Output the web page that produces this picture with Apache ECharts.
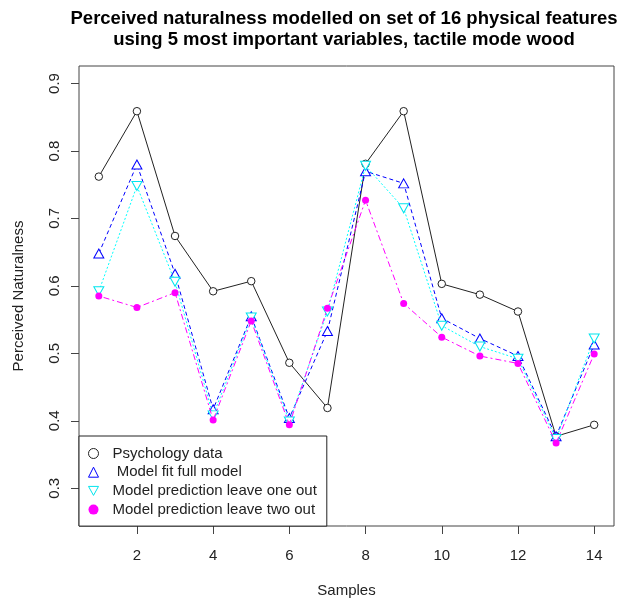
<!DOCTYPE html>
<html>
<head>
<meta charset="utf-8">
<script src="https://cdn.jsdelivr.net/npm/echarts@6/dist/echarts.min.js"></script>
<style>html,body{margin:0;padding:0;background:#fff}#c{width:623px;height:599px}</style>
</head>
<body>
<div id="c"></div>
<script>
const samples = [1,2,3,4,5,6,7,8,9,10,11,12,13,14];
const psychology = [0.762,0.859,0.674,0.592,0.607,0.486,0.419,0.781,0.859,0.603,0.587,0.562,0.377,0.394];
const fullModel = [0.648,0.780,0.618,0.417,0.555,0.404,0.533,0.770,0.752,0.552,0.522,0.496,0.377,0.513];
const leaveOneOut = [0.592,0.748,0.606,0.408,0.553,0.399,0.562,0.778,0.715,0.541,0.510,0.492,0.373,0.522];
const leaveTwoOut = [0.585,0.568,0.590,0.401,0.548,0.394,0.567,0.727,0.574,0.524,0.496,0.485,0.367,0.499];
const xTicks = [2,4,6,8,10,12,14];
const yTicks = [0.3,0.4,0.5,0.6,0.7,0.8,0.9];
const names = ['Psychology data',' Model fit full model','Model prediction leave one out','Model prediction leave two out'];
const titleText = 'Perceived naturalness modelled on set of 16 physical features\nusing 5 most important variables, tactile mode wood';

const pairs = arr => samples.map((s,i)=>[s,arr[i]]);
const FONT = 'Liberation Sans, Arial, sans-serif';
const chart = echarts.init(document.getElementById('c'), null, {renderer:'canvas'});
chart.setOption({
  animation:false,
  backgroundColor:'#fff',
  graphic:[{
    type:'text', x:344, y:8.5, silent:true,
    style:{text:titleText, align:'center', verticalAlign:'top',
      font:'bold 18.5px Liberation Sans, Arial, sans-serif', fill:'#000', lineHeight:21}
  }],
  grid:{left:79,right:9,top:66,bottom:73,containLabel:false,outerBoundsMode:'none',
    show:true,borderColor:'#444',borderWidth:1,backgroundColor:'transparent'},
  xAxis:{type:'value',min:0.48,max:14.52,
    name:'Samples',nameLocation:'middle',nameGap:57,
    nameTextStyle:{fontFamily:FONT,fontSize:15,color:'#222'},
    axisLine:{show:false},splitLine:{show:false},
    axisTick:{show:true,length:8,customValues:xTicks,lineStyle:{color:'#444'}},
    axisLabel:{customValues:xTicks,margin:22,fontFamily:FONT,fontSize:15,color:'#222'}
  },
  yAxis:{type:'value',min:0.244,max:0.926,
    name:'Perceived Naturalness',nameLocation:'middle',nameGap:53,
    nameTextStyle:{fontFamily:FONT,fontSize:15,color:'#222'},
    axisLine:{show:false},splitLine:{show:false},
    axisTick:{show:true,length:8,customValues:yTicks,lineStyle:{color:'#444'}},
    axisLabel:{customValues:yTicks,rotate:90,margin:17,fontFamily:FONT,fontSize:15,color:'#222',
      formatter:v=>v.toFixed(1)}
  },
  legend:{
    orient:'vertical',left:79,top:436,
    backgroundColor:'#fff',borderColor:'#222',borderWidth:1,
    padding:[10,10,9,9],itemGap:3.7,itemWidth:10,itemHeight:10,
    textStyle:{fontFamily:FONT,fontSize:15,color:'#222',padding:[0,0,0,9]},
    data:[
      {name:names[0],icon:'circle',itemStyle:{borderWidth:1}},
      {name:names[1],icon:'triangle',itemStyle:{borderWidth:1}},
      {name:names[2],icon:'path://M0,0L10,0L5,9Z',itemStyle:{borderWidth:1}},
      {name:names[3],icon:'circle'}
    ]
  },
  series:[
    {name:names[0],type:'line',data:pairs(psychology),symbol:'circle',symbolSize:7.5,
     itemStyle:{color:'#fff',borderColor:'#222',borderWidth:1},lineStyle:{color:'#222',width:1},z:2},
    {name:names[1],type:'line',data:pairs(fullModel),symbol:'triangle',symbolSize:[10,9],
     itemStyle:{color:'#fff',borderColor:'#0000ff',borderWidth:1},lineStyle:{color:'#0000ff',width:1,type:[4,3]},z:3},
    {name:names[2],type:'line',data:pairs(leaveOneOut),symbol:'triangle',symbolRotate:180,symbolSize:[10,9],
     itemStyle:{color:'#fff',borderColor:'#00e5ee',borderWidth:1},lineStyle:{color:'#00ffff',width:1,type:[2,2]},z:4},
    {name:names[3],type:'line',data:pairs(leaveTwoOut),symbol:'circle',symbolSize:7,
     itemStyle:{color:'#ff00ff'},lineStyle:{color:'#ff00ff',width:1,type:[2,3,6,3]},z:5}
  ]
});
</script>
</body>
</html>
